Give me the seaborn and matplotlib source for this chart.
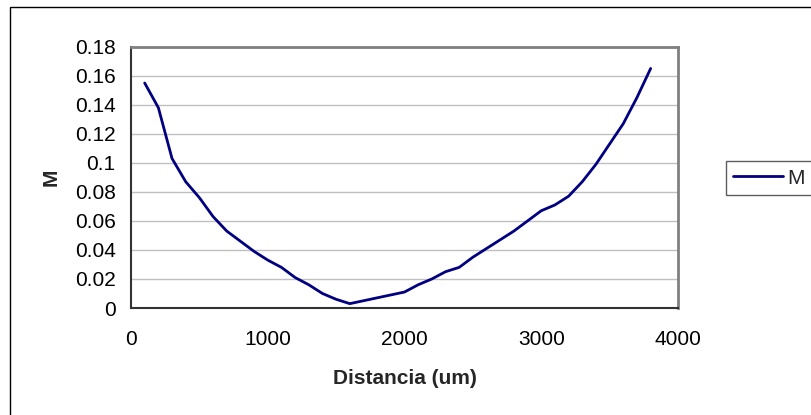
import matplotlib
matplotlib.use("Agg")
import matplotlib.pyplot as plt
from matplotlib.patches import Rectangle
import seaborn as sns
import pandas as pd

# Distance along the profile (um) and the measured M value
distancia = [100, 200, 300, 400, 500, 600, 700, 800, 900, 1000,
             1100, 1200, 1300, 1400, 1500, 1600, 1700, 1800, 1900, 2000,
             2100, 2200, 2300, 2400, 2500, 2600, 2700, 2800, 2900, 3000,
             3100, 3200, 3300, 3400, 3500, 3600, 3700, 3800]
m_values = [0.155, 0.138, 0.103, 0.087, 0.076, 0.063, 0.053, 0.046, 0.039, 0.033,
            0.028, 0.021, 0.016, 0.010, 0.006, 0.003, 0.005, 0.007, 0.009, 0.011,
            0.016, 0.020, 0.025, 0.028, 0.035, 0.041, 0.047, 0.053, 0.060, 0.067,
            0.071, 0.077, 0.087, 0.099, 0.113, 0.127, 0.145, 0.165]
x_ticks = [0, 1000, 2000, 3000, 4000]
y_ticks = [0, 0.02, 0.04, 0.06, 0.08, 0.1, 0.12, 0.14, 0.16, 0.18]
y_tick_labels = ["0", "0.02", "0.04", "0.06", "0.08", "0.1", "0.12", "0.14", "0.16", "0.18"]
series_name = "M"

df = pd.DataFrame({"Distancia": distancia, series_name: m_values})

sns.set_style("white")
plt.rcParams["font.family"] = ["Liberation Sans", "DejaVu Sans"]

W, H = 811, 415
fig = plt.figure(figsize=(W / 100, H / 100), dpi=100)
fig.patch.set_facecolor("white")

# outer chart border (runs off the right and bottom edges)
fig.patches.append(Rectangle((10 / W, -0.2), 1.2, 1 - 7 / H + 0.2,
                             transform=fig.transFigure, fill=False,
                             edgecolor="black", linewidth=1.0))

left, right, top, bottom = 131, 678, 46.7, 308
ax = fig.add_axes([left / W, 1 - bottom / H, (right - left) / W, (bottom - top) / H])

sns.lineplot(data=df, x="Distancia", y=series_name, ax=ax, color="#000080",
             linewidth=2.0, label=series_name)

ax.set_xlim(0, 4000)
ax.set_ylim(0, 0.18)
ax.set_xticks(x_ticks)
ax.set_xticklabels([str(t) for t in x_ticks])
ax.set_yticks(y_ticks)
ax.set_yticklabels(y_tick_labels)

ax.yaxis.grid(True, color="#c0c0c0", linewidth=1.0)
ax.xaxis.grid(False)
ax.set_axisbelow(True)

for side in ("top", "right"):
    ax.spines[side].set_color("#808080")
    ax.spines[side].set_linewidth(2.0)
for side in ("left", "bottom"):
    ax.spines[side].set_color("#333333")
    ax.spines[side].set_linewidth(1.5)

ax.tick_params(axis="both", direction="out", length=5, width=1.0, color="#333333",
               labelsize=15, labelcolor="black")
ax.tick_params(axis="y", pad=6)
ax.tick_params(axis="x", pad=11)

ax.set_xlabel("Distancia (um)", fontsize=15, fontweight="bold", labelpad=14)
ax.set_ylabel("M", fontsize=15, fontweight="bold", labelpad=10)

leg = ax.legend(loc="center left", bbox_to_anchor=(726 / W, 1 - 178 / H),
                bbox_transform=fig.transFigure, frameon=True, fancybox=False,
                fontsize=15, handlelength=2.4, handletextpad=0.2,
                borderpad=0.35, borderaxespad=0)
leg.get_frame().set_edgecolor("#333333")
leg.get_frame().set_linewidth(1.0)

fig.savefig("out.png", dpi=100)
